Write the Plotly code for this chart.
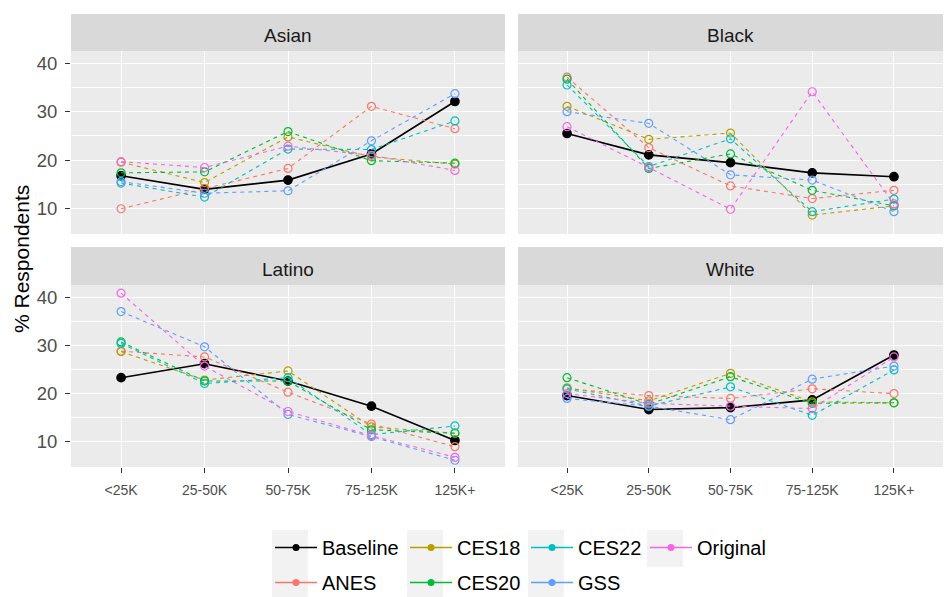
import plotly.graph_objects as go

# Income brackets, panels and survey sources
income = ["<25K", "25-50K", "50-75K", "75-125K", "125K+"]
races = ["Asian", "Black", "Latino", "White"]
sources = ["Baseline", "ANES", "CES18", "CES20", "CES22", "GSS", "Original"]

# % of respondents in each income bracket
asian_baseline = [16.8, 14.0, 15.9, 21.3, 32.1]
asian_anes = [10.0, 14.2, 18.3, 31.1, 26.5]
asian_ces18 = [19.6, 15.4, 24.8, 20.7, 19.2]
asian_ces20 = [17.4, 17.6, 25.9, 19.9, 19.4]
asian_ces22 = [15.3, 12.4, 22.3, 22.2, 28.1]
asian_gss = [15.6, 13.2, 13.7, 24.0, 33.7]
asian_original = [19.7, 18.5, 22.9, 21.0, 17.9]

black_baseline = [25.5, 21.1, 19.5, 17.4, 16.6]
black_anes = [37.1, 22.6, 14.7, 12.1, 13.8]
black_ces18 = [31.1, 24.3, 25.6, 8.7, 10.6]
black_ces20 = [36.7, 18.3, 21.3, 13.8, 10.6]
black_ces22 = [35.5, 18.7, 24.4, 9.4, 12.0]
black_gss = [30.0, 27.6, 17.0, 15.9, 9.4]
black_original = [26.9, 18.5, 9.9, 34.1, 11.0]

latino_baseline = [23.3, 26.2, 22.6, 17.4, 10.3]
latino_anes = [28.8, 27.6, 20.3, 13.7, 9.0]
latino_ces18 = [28.7, 22.8, 24.7, 13.1, 11.8]
latino_ces20 = [30.7, 22.6, 22.6, 12.5, 11.8]
latino_ces22 = [30.4, 22.1, 23.3, 11.5, 13.3]
latino_gss = [37.0, 29.7, 15.7, 11.1, 6.2]
latino_original = [40.8, 25.7, 16.3, 11.3, 6.8]

white_baseline = [19.6, 16.7, 17.1, 18.7, 28.0]
white_anes = [21.0, 19.6, 19.0, 21.0, 20.0]
white_ces18 = [21.2, 18.5, 24.2, 18.3, 18.1]
white_ces20 = [23.3, 17.8, 23.5, 18.0, 18.1]
white_ces22 = [21.0, 17.4, 21.4, 15.5, 24.9]
white_gss = [19.0, 17.4, 14.6, 23.0, 25.7]
white_original = [20.0, 18.0, 17.4, 16.9, 27.6]

colors = {
    "Baseline": "#000000",
    "ANES": "#F8766D",
    "CES18": "#B79F00",
    "CES20": "#00BA38",
    "CES22": "#00BFC4",
    "GSS": "#619CFF",
    "Original": "#F564E3",
}

data = {
    "Asian": [asian_baseline, asian_anes, asian_ces18, asian_ces20, asian_ces22, asian_gss, asian_original],
    "Black": [black_baseline, black_anes, black_ces18, black_ces20, black_ces22, black_gss, black_original],
    "Latino": [latino_baseline, latino_anes, latino_ces18, latino_ces20, latino_ces22, latino_gss, latino_original],
    "White": [white_baseline, white_anes, white_ces18, white_ces20, white_ces22, white_gss, white_original],
}

W, H = 945, 597
FONT = "Liberation Sans, Arial, sans-serif"

# panel geometry in pixels
cols_px = [(71, 505), (518, 943)]
rows_px = [(51, 234), (285, 467)]
strips_px = [(14, 51), (247, 285)]


def px_x(v):
    return v / W


def px_y(v):
    return 1 - v / H


fig = go.Figure()

for i, race in enumerate(races):
    ax = "" if i == 0 else str(i + 1)
    for s, vals in zip(sources, data[race]):
        base = s == "Baseline"
        fig.add_trace(go.Scatter(
            x=income, y=vals, mode="lines+markers", name=s,
            xaxis="x" + ax, yaxis="y" + ax, showlegend=False,
            line=dict(color=colors[s], width=1.6 if base else 1.1,
                      dash="solid" if base else "4px,4px"),
            marker=dict(color=colors[s], size=8.5 if base else 8,
                        symbol="circle" if base else "circle-open",
                        line=dict(width=1.2, color=colors[s])),
            hovertemplate=race + " / " + s + ": %{y}<extra></extra>",
        ))

# legend entries, laid out column by column
legend_cols = [["Baseline", "ANES"], ["CES18", "CES20"], ["CES22", "GSS"], ["Original"]]
legend_x = [270, 405, 526, 645]
for k, group in enumerate(legend_cols):
    lname = "legend" if k == 0 else "legend" + str(k + 1)
    for s in group:
        fig.add_trace(go.Scatter(
            x=[None], y=[None], mode="lines+markers", name=s,
            legend=lname, legendgroup=s, showlegend=True,
            line=dict(color=colors[s], width=1.3),
            marker=dict(color=colors[s], size=7, symbol="circle"),
        ))
    fig.update_layout({lname: dict(
        x=px_x(legend_x[k]), xanchor="left", y=px_y(528), yanchor="top",
        orientation="v", bgcolor="rgba(0,0,0,0)", borderwidth=0,
        font=dict(family=FONT, size=20, color="#000000"),
        tracegroupgap=6, itemwidth=42, traceorder="grouped",
    )})

shapes = []
annotations = []

# legend key backgrounds
for k, group in enumerate(legend_cols):
    for j, s in enumerate(group):
        shapes.append(dict(type="rect", xref="paper", yref="paper", layer="below",
                           x0=px_x(legend_x[k] + 2), x1=px_x(legend_x[k] + 38),
                           y0=px_y(530 + 37 * j), y1=px_y(567 + 37 * j),
                           fillcolor="#F2F2F2", line=dict(width=0)))

layout_axes = {}
for i, race in enumerate(races):
    r, c = divmod(i, 2)
    ax = "" if i == 0 else str(i + 1)
    x0, x1 = cols_px[c]
    yt, yb = rows_px[r]
    st, sb = strips_px[r]
    layout_axes["xaxis" + ax] = dict(
        domain=[px_x(x0), px_x(x1)], anchor="y" + ax,
        type="category", categoryorder="array", categoryarray=income,
        range=[-0.6, 4.6], showgrid=True, gridcolor="#FFFFFF", gridwidth=1.1,
        zeroline=False, showline=False,
        showticklabels=(r == 1), ticks="outside" if r == 1 else "",
        ticklen=5, tickwidth=1, tickcolor="#333333", ticklabelstandoff=5,
        tickfont=dict(family=FONT, size=14, color="#4D4D4D"),
    )
    layout_axes["yaxis" + ax] = dict(
        domain=[px_y(yb), px_y(yt)], anchor="x" + ax,
        range=[4.8, 42.5], tickvals=[10, 20, 30, 40],
        showgrid=True, gridcolor="#FFFFFF", gridwidth=1.1,
        minor=dict(tickvals=[5, 15, 25, 35], showgrid=True,
                   gridcolor="#FFFFFF", gridwidth=0.55),
        zeroline=False, showline=False,
        showticklabels=(c == 0), ticks="outside" if c == 0 else "",
        ticklen=5, tickwidth=1, tickcolor="#333333", ticklabelstandoff=4,
        tickfont=dict(family=FONT, size=18.5, color="#4D4D4D"),
    )
    # facet strip
    shapes.append(dict(type="rect", xref="paper", yref="paper", layer="below",
                       x0=px_x(x0), x1=px_x(x1), y0=px_y(sb), y1=px_y(st),
                       fillcolor="#D9D9D9", line=dict(width=0)))
    annotations.append(dict(text=race, xref="paper", yref="paper",
                            x=px_x((x0 + x1) / 2), y=px_y((st + sb) / 2 + 3),
                            xanchor="center", yanchor="middle", showarrow=False,
                            font=dict(family=FONT, size=19, color="#1A1A1A")))

annotations.append(dict(text="% Respondents", xref="paper", yref="paper",
                        x=px_x(22), y=px_y(259), textangle=-90,
                        xanchor="center", yanchor="middle", showarrow=False,
                        font=dict(family=FONT, size=21, color="#000000")))

fig.update_layout(
    width=W, height=H, margin=dict(l=0, r=0, t=0, b=0, autoexpand=False),
    paper_bgcolor="#FFFFFF", plot_bgcolor="#EBEBEB",
    font=dict(family=FONT), shapes=shapes, annotations=annotations,
    **layout_axes,
)

fig.write_html("out.html")
